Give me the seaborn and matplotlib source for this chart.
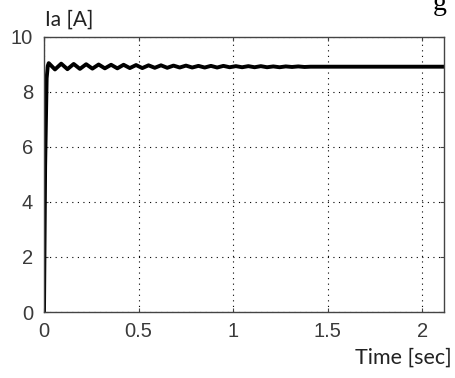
import matplotlib
matplotlib.use("Agg")
import matplotlib.pyplot as plt
import seaborn as sns
import pandas as pd

# ---- data ----
time_s = [0.0, 0.006, 0.014, 0.020,
          0.025, 0.058, 0.091, 0.124, 0.157, 0.190, 0.223, 0.256, 0.289, 0.322,
          0.355, 0.388, 0.421, 0.454, 0.487, 0.520, 0.553, 0.586, 0.619, 0.652,
          0.685, 0.718, 0.751, 0.784, 0.817, 0.850, 0.883, 0.916, 0.949, 0.982,
          1.015, 1.048, 1.081, 1.114, 1.147, 1.180, 1.213, 1.246, 1.279, 1.312,
          1.345, 1.378, 1.410, 2.200]
current_a = [0.0, 5.3, 8.5, 8.95,
             9.05, 8.82, 9.03, 8.83, 9.02, 8.84, 9.01, 8.85, 9.00, 8.86,
             8.99, 8.86, 8.99, 8.87, 8.98, 8.87, 8.97, 8.88, 8.97, 8.88,
             8.96, 8.89, 8.96, 8.89, 8.95, 8.89, 8.95, 8.89, 8.95, 8.90,
             8.94, 8.90, 8.94, 8.90, 8.94, 8.90, 8.93, 8.90, 8.93, 8.91,
             8.93, 8.91, 8.92, 8.92]
x_ticks = [0, 0.5, 1, 1.5, 2]
x_tick_labels = ["0", "0.5", "1", "1.5", "2"]
y_ticks = [0, 2, 4, 6, 8, 10]
y_tick_labels = ["0", "2", "4", "6", "8", "10"]

df = pd.DataFrame({"t": time_s, "ia": current_a})

sns.set_style("white")
plt.rcParams["font.family"] = ["Liberation Sans", "DejaVu Sans"]

fig = plt.figure(figsize=(4.55, 3.78), dpi=100)
ax = fig.add_axes([44/455, 1 - 312/378, 400/455, 275/378])

sns.lineplot(data=df, x="t", y="ia", ax=ax, color="black", linewidth=2.8,
             legend=False)

ax.set_xlim(0, 2.116)
ax.set_ylim(0, 10)
ax.set_xticks(x_ticks)
ax.set_xticklabels(x_tick_labels)
ax.set_yticks(y_ticks)
ax.set_yticklabels(y_tick_labels)
ax.set_xlabel("")
ax.set_ylabel("")

ax.grid(True, color="black", linestyle=(0, (1, 4)), linewidth=0.8)
for s in ax.spines.values():
    s.set_color("#444444")
    s.set_linewidth(1.0)
ax.tick_params(axis="both", direction="in", length=3, width=0.8,
               labelsize=14.5, labelcolor="#3a3a3a", color="#444444",
               top=True, right=True, bottom=True, left=True)
ax.tick_params(axis="x", pad=7)
ax.tick_params(axis="y", pad=8)

fig.text(45/455, 1 - 20/378, "Ia [A]", fontsize=15, color="#222222",
         family=["Lato", "DejaVu Sans"], va="center", ha="left")
fig.text(452/455, 1 - 358/378, "Time [sec]", fontsize=15.5, color="#222222",
         family=["Lato", "DejaVu Sans"], va="center", ha="right")
fig.text(433/455, 1 - 4/378, "g", fontsize=20, color="black",
         family=["Liberation Serif", "DejaVu Serif"], va="center", ha="left")

fig.savefig("out.png", dpi=100)
